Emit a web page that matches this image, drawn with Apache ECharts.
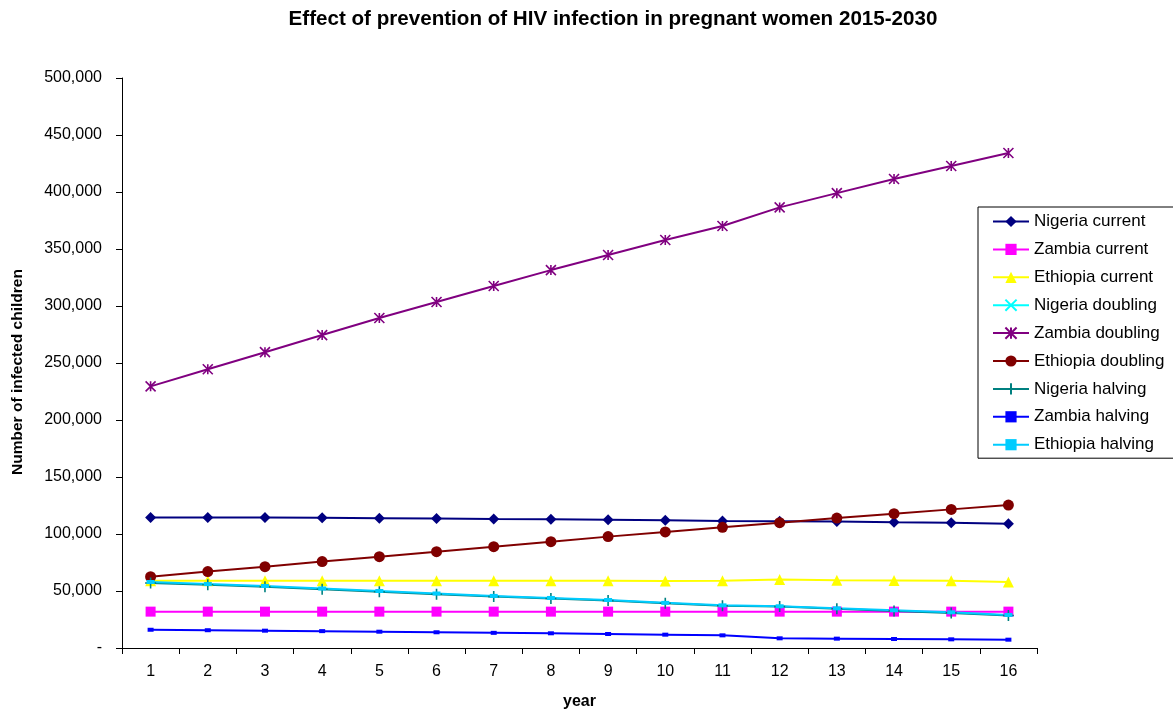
<!DOCTYPE html>
<html>
<head>
<meta charset="utf-8">
<script src="https://cdn.jsdelivr.net/npm/echarts@6/dist/echarts.min.js"></script>
<style>html,body{margin:0;padding:0;background:#fff}#c{width:1173px;height:710px}</style>
</head>
<body>
<div id="c"></div>
<script>
const years = ['1','2','3','4','5','6','7','8','9','10','11','12','13','14','15','16'];
const nigeriaCurrent = [114500,114500,114400,114200,113900,113600,113200,112900,112500,112000,111500,111200,110900,110300,109800,109000];
const zambiaCurrent = [31900,31900,31900,31900,31900,31900,31900,31900,31900,31900,31900,31900,31900,31900,31900,31900];
const ethiopiaCurrent = [59000,59000,59000,59000,59000,59000,59000,59000,59000,58800,59000,60000,59500,59200,59000,58000];
const nigeriaDoubling = [];
const zambiaDoubling = [229500,244500,259500,274500,289500,303500,317500,331500,344700,357900,370200,386500,399000,411400,422800,434200];
const ethiopiaDoubling = [62500,67000,71300,75800,80100,84500,88900,93300,97700,101800,105900,109900,114000,117800,121600,125400];
const nigeriaHalving = [57000,55500,53800,51500,49400,47200,45100,43400,41600,39200,37100,36300,34400,32500,30800,28500];
const zambiaHalving = [16000,15600,15200,14800,14300,13800,13300,12900,12300,11700,11100,8500,8200,7900,7600,7300];
const ethiopiaHalving = [57900,56100,54400,52200,50000,47800,45700,43900,42100,39600,37400,36600,34800,33100,31300,29000];
const yTicks = {min: 0, max: 500000, interval: 50000};

const asterisk = 'path://M0,0L10,10M10,0L0,10M5,0L5,10';
const cross = 'path://M0,0L10,10M10,0L0,10';
const plus = 'path://M5,0L5,10M1.5,5L8.5,5';
const FONT = 'Liberation Sans, Arial';

function mk(name, data, color, symbol, size, stroke) {
  return {
    name, type: 'line', data, symbol, symbolSize: size,
    lineStyle: {color, width: 2},
    itemStyle: {color, borderColor: color, borderWidth: stroke ? 1.6 : 0},
    emphasis: {disabled: true}, animation: false
  };
}

const chart = echarts.init(document.getElementById('c'), null, {renderer: 'canvas'});
chart.setOption({
  backgroundColor: '#ffffff',
  animation: false,
  title: {
    text: 'Effect of prevention of HIV infection in pregnant women 2015-2030',
    left: 608, textAlign: 'center', top: 4,
    textStyle: {fontFamily: FONT, fontSize: 20.6, fontWeight: 'bold', color: '#000'}
  },
  legend: {
    orient: 'vertical', left: 978, top: 207,
    padding: [6, 11, 5, 14],
    itemGap: 10.9, itemWidth: 36, itemHeight: 14,
    borderColor: '#000', borderWidth: 1, backgroundColor: '#fff',
    textStyle: {fontFamily: FONT, fontSize: 17, lineHeight: 17, color: '#000'},
    data: ['Nigeria current','Zambia current','Ethiopia current','Nigeria doubling','Zambia doubling','Ethiopia doubling','Nigeria halving','Zambia halving','Ethiopia halving']
  },
  grid: {left: 122, right: 136, top: 78, bottom: 62, containLabel: false, outerBoundsMode: 'none'},
  xAxis: {
    type: 'category', data: years, boundaryGap: true,
    name: 'year', nameLocation: 'middle', nameGap: 46,
    nameTextStyle: {fontFamily: FONT, fontSize: 16, fontWeight: 'bold', color: '#000'},
    axisLine: {lineStyle: {color: '#000', width: 1}},
    axisTick: {show: true, alignWithLabel: false, length: 6, lineStyle: {color: '#000'}},
    axisLabel: {fontFamily: FONT, fontSize: 16, color: '#000', margin: 16},
    splitLine: {show: false}
  },
  yAxis: {
    type: 'value', min: yTicks.min, max: yTicks.max, interval: yTicks.interval,
    name: 'Number of infected children', nameLocation: 'middle', nameGap: 96, nameRotate: 90,
    nameTextStyle: {fontFamily: FONT, fontSize: 15.5, fontWeight: 'bold', color: '#000', padding: [0, 18, 0, 0]},
    axisLine: {show: true, lineStyle: {color: '#000', width: 1}},
    axisTick: {show: true, length: 6, lineStyle: {color: '#000'}},
    axisLabel: {
      fontFamily: FONT, fontSize: 16, color: '#000', margin: 20,
      formatter: v => v === 0 ? '-' : v.toLocaleString('en-US')
    },
    splitLine: {show: false}
  },
  series: [
    mk('Nigeria current', nigeriaCurrent, '#000080', 'diamond', 11, false),
    mk('Zambia current', zambiaCurrent, '#FF00FF', 'rect', 10, false),
    mk('Ethiopia current', ethiopiaCurrent, '#FFFF00', 'triangle', 11, false),
    mk('Nigeria doubling', nigeriaDoubling, '#00FFFF', cross, 9, true),
    mk('Zambia doubling', zambiaDoubling, '#800080', asterisk, 10, true),
    mk('Ethiopia doubling', ethiopiaDoubling, '#800000', 'circle', 11, false),
    mk('Nigeria halving', nigeriaHalving, '#008080', plus, 11, true),
    mk('Zambia halving', zambiaHalving, '#0000FF', 'rect', [6, 4], false),
    mk('Ethiopia halving', ethiopiaHalving, '#00CCFF', 'rect', [8, 4], false)
  ]
});
</script>
</body>
</html>
